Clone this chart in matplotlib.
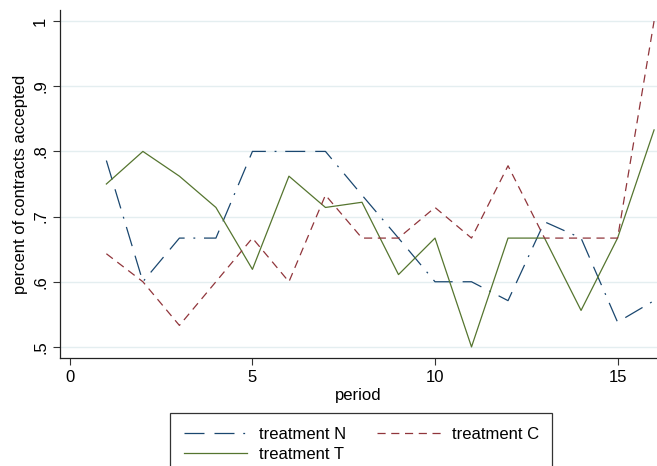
import numpy as np
import matplotlib as mpl
import matplotlib.pyplot as plt
from matplotlib.patches import Rectangle

mpl.rcParams['font.family'] = ['Liberation Sans', 'DejaVu Sans']

period = [1, 2, 3, 4, 5, 6, 7, 8, 9, 10, 11, 12, 13, 14, 15, 16]
treat_n = [0.786, 0.600, 0.667, 0.667, 0.800, 0.800, 0.800, 0.733,
           0.667, 0.600, 0.600, 0.571, 0.692, 0.667, 0.538, 0.571]
treat_c = [0.643, 0.600, 0.533, 0.600, 0.667, 0.600, 0.733, 0.667,
           0.667, 0.714, 0.667, 0.778, 0.667, 0.667, 0.667, 1.000]
treat_t = [0.750, 0.800, 0.762, 0.714, 0.619, 0.762, 0.714, 0.722,
           0.611, 0.667, 0.500, 0.667, 0.667, 0.556, 0.667, 0.833]

yticks = [0.5, 0.6, 0.7, 0.8, 0.9, 1.0]
ytick_labels = ['.5', '.6', '.7', '.8', '.9', '1']
xticks = [0, 5, 10, 15]

fig = plt.figure(figsize=(6.57, 4.66), dpi=100)
ax = fig.add_axes([60/657, 1 - 358/466, 1 - 60/657, (358 - 10)/466])

for y in yticks:
    ax.axhline(y, color='#e4eef0', lw=1.0, zorder=0)

ax.plot(period, treat_n, color='#1a476f', lw=0.9,
        dashes=(16, 8, 16, 7, 1.5, 7), label='treatment N')
ax.plot(period, treat_t, color='#55752f', lw=0.9, label='treatment T')
ax.plot(period, treat_c, color='#90353b', lw=0.9,
        dashes=(6.5, 4.5), label='treatment C')

ax.set_xlim(-0.27, 16.08)
ax.set_ylim(0.483, 1.017)
ax.set_xticks(xticks)
ax.set_yticks(yticks)
ax.set_yticklabels(ytick_labels, rotation=90, va='center')
ax.tick_params(labelsize=12, length=5, width=0.8, color='#333333')
ax.spines['top'].set_visible(False)
ax.spines['right'].set_visible(False)
for s in ('left', 'bottom'):
    ax.spines[s].set_linewidth(0.9)
    ax.spines[s].set_color('#222222')

ax.set_xlabel('period', fontsize=12, labelpad=2)
ax.set_ylabel('percent of contracts accepted', fontsize=12, labelpad=4)

# legend box runs off the bottom of the image, as in the original
fig.patches.append(Rectangle((170/657, -0.1), (552 - 170)/657, (466 - 413)/466 + 0.1,
                             transform=fig.transFigure, fill=False,
                             edgecolor='#333333', lw=0.9))
leg = fig.legend(loc='upper left', bbox_to_anchor=(172/657, 1 - 415/466),
                 ncol=2, fontsize=12, frameon=False,
                 handlelength=3.8, handletextpad=0.7, columnspacing=1.9,
                 borderpad=0.2, labelspacing=0.3)

fig.savefig('out.png', dpi=100)
